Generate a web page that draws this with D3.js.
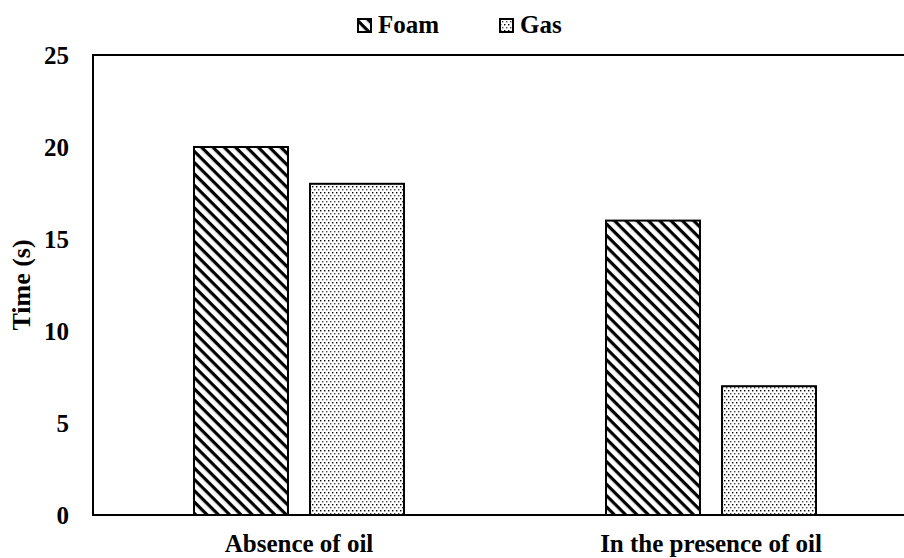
<!DOCTYPE html>
<html><head><meta charset="utf-8">
<script src="https://cdn.jsdelivr.net/npm/d3@7/dist/d3.min.js"></script>
<style>body{margin:0;background:#fff}svg{display:block}text{font-family:"Liberation Serif","Times New Roman",serif;font-weight:bold;fill:#000}</style>
</head><body><svg id="c" width="904" height="558"></svg>
<script>
const categories = ["Absence of oil", "In the presence of oil"];
const series = ["Foam", "Gas"];
const foamValues = [20, 16];
const gasValues = [18, 7];
const yTicks = [0, 5, 10, 15, 20, 25];

const FONT = "'Liberation Serif', 'Times New Roman', serif";
const svg = d3.select("#c");
const m = {left: 93, top: 55, bottom: 515, right: 917};
const defs = svg.append("defs");
const pf = defs.append("pattern").attr("id","pFoam").attr("patternUnits","userSpaceOnUse")
  .attr("width",8).attr("height",8).attr("patternTransform","rotate(45)");
pf.append("rect").attr("width",8).attr("height",8).attr("fill","#fff");
pf.append("rect").attr("x",0).attr("y",0).attr("width",8).attr("height",3.2).attr("fill","#000");
const pg = defs.append("pattern").attr("id","pGas").attr("patternUnits","userSpaceOnUse")
  .attr("width",4).attr("height",6);
pg.append("rect").attr("width",4).attr("height",6).attr("fill","#fff");
pg.append("rect").attr("x",0).attr("y",0).attr("width",1.4).attr("height",1.4).attr("fill","#000");
pg.append("rect").attr("x",2).attr("y",3).attr("width",1.4).attr("height",1.4).attr("fill","#444");
const fills = {Foam:"url(#pFoam)", Gas:"url(#pGas)"};

const y = d3.scaleLinear().domain([0,25]).range([m.bottom, m.top]);
const x0 = d3.scaleBand().domain(categories).range([m.left, m.right]);
const x1 = d3.scaleBand().domain(series).range([-105,105]).paddingInner(0.19);

const rows = categories.map((c,i)=>({c, vals:[{s:"Foam",v:foamValues[i]},{s:"Gas",v:gasValues[i]}]}));

svg.append("line").attr("x1",m.left).attr("x2",m.left).attr("y1",m.top).attr("y2",m.bottom).attr("stroke","#000").attr("stroke-width",2);
svg.append("line").attr("x1",m.left-1).attr("x2",904).attr("y1",m.top).attr("y2",m.top).attr("stroke","#000").attr("stroke-width",2);

rows.forEach(r=>{
  const cx = x0(r.c) + x0.bandwidth()/2;
  r.vals.forEach(d=>{
    svg.append("rect").attr("x",cx + x1(d.s)).attr("y",y(d.v))
      .attr("width",x1.bandwidth()).attr("height",y(0)-y(d.v))
      .attr("fill",fills[d.s]).attr("stroke","#000").attr("stroke-width",2);
  });
});

svg.append("line").attr("x1",m.left-1).attr("x2",904).attr("y1",m.bottom).attr("y2",m.bottom).attr("stroke","#000").attr("stroke-width",2);

const yAxis = d3.axisLeft(y).tickValues(yTicks).tickSize(0).tickPadding(24);
const ya = svg.append("g").attr("transform",`translate(${m.left},0)`).call(yAxis)
  .attr("font-family",FONT).attr("font-size",25);
ya.select(".domain").remove();
ya.selectAll("text").style("font-weight","bold").attr("fill","#000");

const xAxis = d3.axisBottom(x0).tickSize(0).tickPadding(19);
const xa = svg.append("g").attr("transform",`translate(0,${m.bottom})`).call(xAxis)
  .attr("font-family",FONT).attr("font-size",25);
xa.select(".domain").remove();
xa.selectAll("text").style("font-weight","bold").attr("fill","#000");

svg.append("text").attr("transform",`translate(30,${(m.top+m.bottom)/2}) rotate(-90)`)
  .attr("text-anchor","middle").attr("font-family",FONT).style("font-size","26px").text("Time (s)");

const leg = [{s:"Foam",x:358},{s:"Gas",x:500}];
leg.forEach(l=>{
  svg.append("rect").attr("x",l.x).attr("y",19).attr("width",13).attr("height",13)
    .attr("fill",fills[l.s]).attr("stroke","#000").attr("stroke-width",2);
  svg.append("text").attr("x",l.x+20).attr("y",33).attr("font-family",FONT).style("font-size","25px").text(l.s);
});
</script></body></html>
